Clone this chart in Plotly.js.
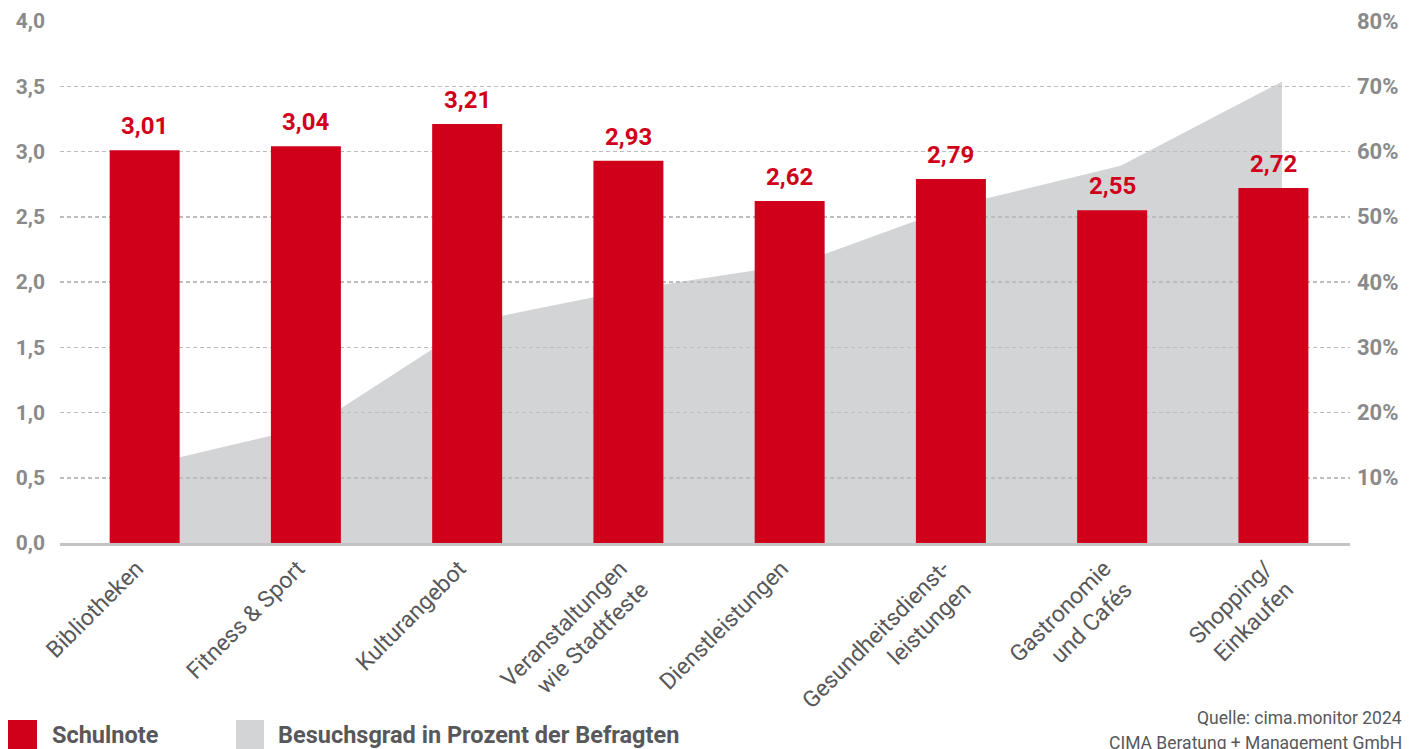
<!DOCTYPE html>
<html>
<head>
<meta charset="utf-8">
<script src="https://cdn.plot.ly/plotly-3.0.1.min.js"></script>
<style>
  html, body { margin: 0; padding: 0; background: #fff; }
  #chart { width: 1419px; height: 749px; }
</style>
</head>
<body>
<div id="chart"></div>
<script>
// ---- data ----
const categories = ["Bibliotheken", "Fitness & Sport", "Kulturangebot", "Veranstaltungen<br>wie Stadtfeste",
  "Dienstleistungen", "Gesundheitsdienst-<br>leistungen", "Gastronomie<br>und Cafés", "Shopping/<br>Einkaufen"];
const schulnote = [3.01, 3.04, 3.21, 2.93, 2.62, 2.79, 2.55, 2.72];
const besuchsgrad = [12.2, 18.0, 34.0, 39.0, 42.8, 51.8, 57.8, 70.7];
const leftTicks = [0, 0.5, 1, 1.5, 2, 2.5, 3, 3.5, 4];
const rightTicks = [10, 20, 30, 40, 50, 60, 70, 80];
const rightTickLabels = ["10%", "20%", "30%", "40%", "50%", "60%", "70%", "80%"];
const legendLabels = ["Schulnote", "Besuchsgrad in Prozent der Befragten"];
const sourceLines = ["Quelle: cima.monitor 2024", "CIMA Beratung + Management GmbH"];

// ---- layout constants ----
const W = 1419, H = 749;
const M = {l: 60, r: 69, t: 21, b: 206};
const PW = W - M.l - M.r, PH = H - M.t - M.b;
const px2x = p => (p - M.l) / PW;
const px2y = p => (H - M.b - p) / PH;

const RED = '#d0001b';
const GREY_AREA = '#d3d4d6';
const FONT = 'Roboto, "Noto Sans", sans-serif';
const xIdx = categories.map((c, i) => i);

const areaTrace = {
  type: 'scatter', mode: 'lines', x: xIdx, y: besuchsgrad,
  xaxis: 'x', yaxis: 'y', fill: 'tozeroy', fillcolor: GREY_AREA,
  line: {width: 0, color: GREY_AREA}, hoverinfo: 'skip', showlegend: false
};
const barTrace = {
  type: 'bar', x: xIdx, y: schulnote, xaxis: 'x2', yaxis: 'y2',
  marker: {color: RED, line: {width: 0}}, width: 0.434, showlegend: false,
  hoverinfo: 'skip'
};

const annotations = schulnote.map((v, i) => ({
  xref: 'x2', yref: 'y2', x: i, y: v, yanchor: 'bottom', yshift: 8,
  text: v.toFixed(2).replace('.', ','), showarrow: false,
  font: {family: FONT, size: 24, color: RED, weight: 700}
}));

// legend
annotations.push(
  {xref: 'paper', yref: 'paper', x: px2x(50), y: px2y(735), xanchor: 'left', yanchor: 'middle',
   text: legendLabels[0], showarrow: false, font: {family: FONT, size: 23.5, color: '#58585a', weight: 700}},
  {xref: 'paper', yref: 'paper', x: px2x(276), y: px2y(735), xanchor: 'left', yanchor: 'middle',
   text: legendLabels[1], showarrow: false, font: {family: FONT, size: 23.5, color: '#58585a', weight: 700}},
  {xref: 'paper', yref: 'paper', x: px2x(1404), y: px2y(718), xanchor: 'right', yanchor: 'middle',
   text: sourceLines[0], showarrow: false, font: {family: FONT, size: 17.5, color: '#58585a'}},
  {xref: 'paper', yref: 'paper', x: px2x(1404), y: px2y(743), xanchor: 'right', yanchor: 'middle',
   text: sourceLines[1], showarrow: false, font: {family: FONT, size: 17.5, color: '#58585a'}}
);

const shapes = [
  {type: 'rect', xref: 'paper', yref: 'paper', x0: px2x(8), x1: px2x(37), y0: px2y(720), y1: px2y(749),
   fillcolor: RED, line: {width: 0}},
  {type: 'rect', xref: 'paper', yref: 'paper', x0: px2x(236), x1: px2x(264), y0: px2y(720), y1: px2y(749),
   fillcolor: GREY_AREA, line: {width: 0}}
];

const shift = 8.5 / (PW / 8);
const layout = {
  width: W, height: H, margin: M,
  paper_bgcolor: '#fff', plot_bgcolor: 'rgba(0,0,0,0)',
  separators: ',.',
  font: {family: FONT},
  showlegend: false,
  xaxis: {
    domain: [0, 1], anchor: 'y', range: [-0.525 - shift, 7.475 - shift],
    showgrid: false, showticklabels: false, zeroline: false, showline: false, fixedrange: true
  },
  yaxis: {
    domain: [0, 1], anchor: 'x', side: 'right', range: [0, 80],
    tickmode: 'array', tickvals: rightTicks, ticktext: rightTickLabels,
    showgrid: false, zeroline: false, showline: false,
    ticks: '', ticklabelstandoff: 6,
    tickfont: {family: FONT, size: 22, color: '#8a8a8a', weight: 700}
  },
  xaxis2: {
    domain: [0, 1], anchor: 'y2', range: [-0.525, 7.475],
    tickmode: 'array', tickvals: xIdx, ticktext: categories, tickangle: -45,
    tickfont: {family: FONT, size: 23, color: '#58585a'},
    showgrid: false, zeroline: false, showline: true, linecolor: '#c3c3c5', linewidth: 3,
    ticks: '', ticklabelstandoff: 0, ticklabelshift: -8, fixedrange: true
  },
  yaxis2: {
    domain: [0, 1], anchor: 'x2', range: [0, 4],
    tickmode: 'array', tickvals: leftTicks, tickformat: '.1f',
    showgrid: true, gridcolor: '#bdbdbd', gridwidth: 1.5, griddash: '4px,3px',
    zeroline: false, showline: false, ticks: '', ticklabelstandoff: 14,
    tickfont: {family: FONT, size: 21, color: '#8a8a8a', weight: 700}
  },
  annotations: annotations,
  shapes: shapes
};

Plotly.newPlot('chart', [areaTrace, barTrace], layout, {displayModeBar: false, staticPlot: true});
</script>
</body>
</html>
